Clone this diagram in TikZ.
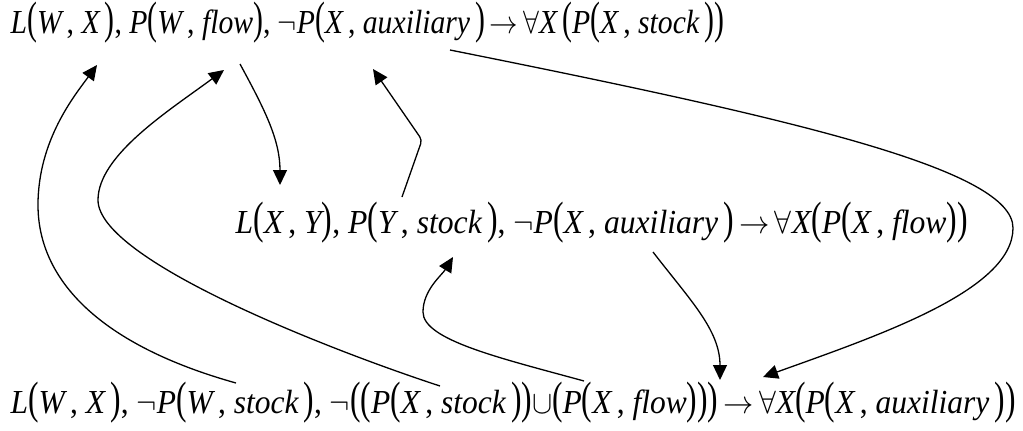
\documentclass[tikz,border=0pt]{standalone}
\usepackage{graphicx}
\usepackage{fontspec}
\setmainfont{Liberation Serif}
\usepackage{tikz}
\usetikzlibrary{arrows.meta}
\newcommand{\lb}{\scalebox{1}[1.35]{\upshape(}}
\newcommand{\rb}{\scalebox{1}[1.35]{\upshape)}}
\newcommand{\cm}{{\upshape,}}
\newcommand{\rowtext}[2]{\scalebox{#1}[1.12]{#2}}

\begin{document}
\begin{tikzpicture}[x=0.5pt, y=0.5pt, line width=0.65pt,
    formula/.style={anchor=base west, inner sep=0pt,
      font=\fontsize{15}{18}\selectfont\itshape},
    link/.style={-{Triangle[length=7.5pt,width=7pt]}}]
  \useasboundingbox (0,0) rectangle (1023,430);
  % the three rules
  \node[formula] (top) at (10,397) {\rowtext{0.99}{L\lb W\,\cm{} X\,\rb\cm{}
    P\lb W\,\cm{} flow\rb\cm{} $\neg$P\lb X\,\cm{} auxiliary\,\rb\,$\rightarrow$\,$\forall$X\,\lb P\lb X\,\cm{} stock\,\rb\rb}};
  \node[formula] (mid) at (235,197) {\rowtext{1.055}{L\lb X\,\cm{} Y\rb\cm{}
    P\lb Y\,\cm{} stock\,\rb\cm{} $\neg$P\lb X\,\cm{} auxiliary\,\rb\,$\rightarrow$\,$\forall$X\lb P\lb X\,\cm{} flow\rb\rb}};
  \node[formula] (bot) at (10,17) {\rowtext{1.05}{L\lb W\,\cm{} X\,\rb\cm{}
    $\neg$P\lb W\,\cm{} stock\,\rb\cm{} $\neg$\lb\lb P\lb X\,\cm{} stock\,\rb\rb$\cup$\lb P\lb X\,\cm{} flow\rb\rb\rb\,$\rightarrow$\,$\forall$X\lb P\lb X\,\cm{} auxiliary\,\rb\rb}};
  % ends of the links
  \coordinate (s1) at (236,47);  \coordinate (e1) at (97,365);
  \coordinate (s2) at (440,44);  \coordinate (e2) at (224,360);
  \coordinate (s3) at (240,366); \coordinate (e3) at (280,245);
  \coordinate (s4) at (402,233); \coordinate (e4) at (373,361);
  \coordinate (s5) at (450,380); \coordinate (e5) at (763,53);
  \coordinate (s6) at (653,178); \coordinate (e6) at (720,50);
  \coordinate (s7) at (584,49);  \coordinate (e7) at (453,173);
  % links
  \draw[link] (s1) .. controls (100,85) and (38,150) .. (38,225)
    .. controls (38,290) and (75,335) .. (e1);
  \draw[link] (s2) .. controls (330,80) and (98,170) .. (98,230)
    .. controls (98,275) and (170,320) .. (e2);
  \draw[link] (s3) .. controls (265,320) and (280,290) .. (e3);
  \draw[link, rounded corners=2pt] (s4) -- (422,290) -- (e4);
  \draw[link] (s5) .. controls (800,310) and (1013,260) .. (1013,202)
    .. controls (1013,140) and (880,95) .. (e5);
  \draw[link] (s6) .. controls (690,130) and (720,100) .. (e6);
  \draw[link] (s7) .. controls (500,72) and (423,90) .. (423,118)
    .. controls (423,140) and (442,155) .. (e7);
\end{tikzpicture}
\end{document}
